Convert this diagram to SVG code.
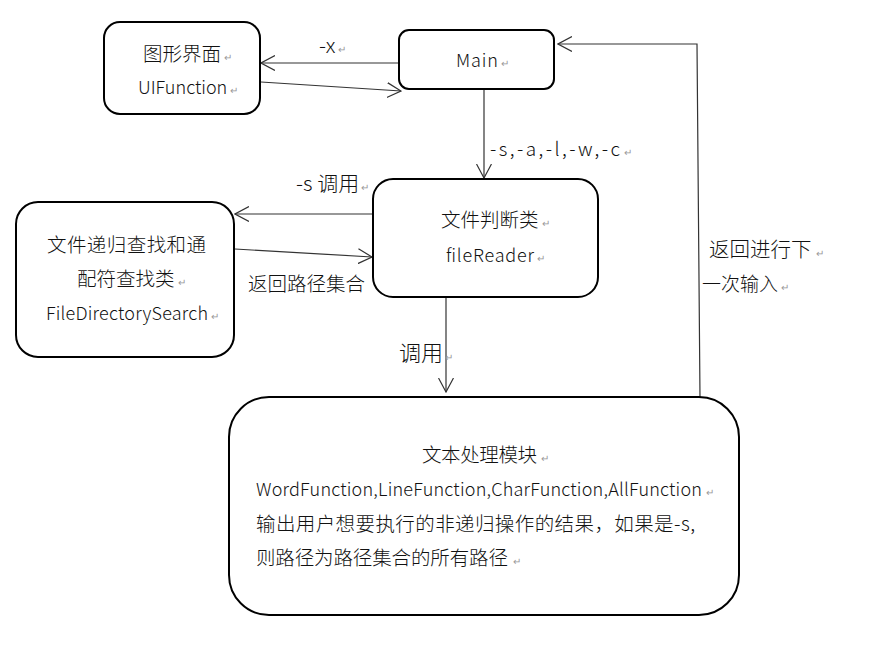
<svg xmlns="http://www.w3.org/2000/svg" width="870" height="659" viewBox="0 0 870 659">
<style>
.box{fill:#fff;stroke:#000;stroke-width:2}
.con{fill:none;stroke:#333;stroke-width:1.2}
text{font-family:"Noto Sans CJK SC","Microsoft YaHei",sans-serif;fill:#111;font-weight:300}
.c{font-size:19.5px}
.n{font-size:18px}
.rm{font-size:10px;fill:#999}
</style>
<defs>
<marker id="arr" viewBox="0 0 15 16" refX="14" refY="8" markerWidth="15" markerHeight="16" markerUnits="userSpaceOnUse" orient="auto">
<path d="M0,0.5 L14,8 L0,15.5" fill="none" stroke="#333" stroke-width="1.2"/>
</marker>
</defs>
<rect width="870" height="659" fill="#fff"/>
<g id="connectors">
<line class="con" x1="399" y1="63" x2="261" y2="63" marker-end="url(#arr)"/>
<line class="con" x1="261" y1="82" x2="401" y2="91" marker-end="url(#arr)"/>
<line class="con" x1="484" y1="89" x2="484" y2="178" marker-end="url(#arr)"/>
<line class="con" x1="373" y1="214" x2="235" y2="214" marker-end="url(#arr)"/>
<line class="con" x1="235" y1="249" x2="372" y2="257" marker-end="url(#arr)"/>
<line class="con" x1="446" y1="297" x2="446" y2="392" marker-end="url(#arr)"/>
<polyline class="con" points="700,397 697,44 558,44" marker-end="url(#arr)"/>
<text x="319" y="53" font-size="21">-x<tspan class="rm" dx="3">↵</tspan></text>
<text x="490" y="156" font-size="19" textLength="130">-s,-a,-l,-w,-c</text>
<text class="rm" x="624" y="156">↵</text>
<text x="296" y="191" font-size="21">-s 调用<tspan class="rm" dx="2">↵</tspan></text>
<text x="248" y="291" font-size="19.5">返回路径集合</text>
<text x="399" y="361" font-size="22">调用<tspan class="rm" dx="2">↵</tspan></text>
<text x="709" y="257" font-size="20.5">返回进行下<tspan class="rm" dx="4">↵</tspan></text>
<text x="702" y="291" font-size="19">一次输入<tspan class="rm" dx="3">↵</tspan></text>
</g>
<g id="uifunction">
<rect class="box" x="104" y="22" width="156" height="92" rx="16"/>
<text class="c" x="143" y="61">图形界面<tspan class="rm" dx="3">↵</tspan></text>
<text class="n" x="138" y="94">UIFunction<tspan class="rm" dx="3">↵</tspan></text>
</g>
<g id="main">
<rect class="box" x="399" y="30" width="155" height="59" rx="10"/>
<text class="n" x="456" y="67" textLength="42">Main</text>
<text class="rm" x="501" y="67">↵</text>
</g>
<g id="filereader">
<rect class="box" x="373" y="179" width="225" height="118" rx="20"/>
<text class="c" x="441" y="227">文件判断类<tspan class="rm" dx="3">↵</tspan></text>
<text class="n" x="446" y="262" textLength="88">fileReader</text>
<text class="rm" x="537" y="262">↵</text>
</g>
<g id="filedirectorysearch">
<rect class="box" x="16" y="202" width="218" height="155" rx="22"/>
<text class="c" x="47" y="252" textLength="159">文件递归查找和通</text>
<text class="c" x="77" y="286">配符查找类<tspan class="rm" dx="3">↵</tspan></text>
<text class="n" x="46" y="320" textLength="162">FileDirectorySearch</text>
<text class="rm" x="211" y="320">↵</text>
</g>
<g id="textprocessing">
<rect class="box" x="229" y="397" width="510" height="218" rx="40"/>
<text class="c" x="422" y="462" textLength="115">文本处理模块</text>
<text class="rm" x="541" y="462">↵</text>
<text class="n" x="256" y="496" textLength="446">WordFunction,LineFunction,CharFunction,AllFunction</text>
<text class="rm" x="706" y="496">↵</text>
<text class="c" x="256" y="531" textLength="439">输出用户想要执行的非递归操作的结果，如果是-s,</text>
<text class="c" x="256" y="565" textLength="252">则路径为路径集合的所有路径</text>
<text class="rm" x="513" y="565">↵</text>
</g>
</svg>
